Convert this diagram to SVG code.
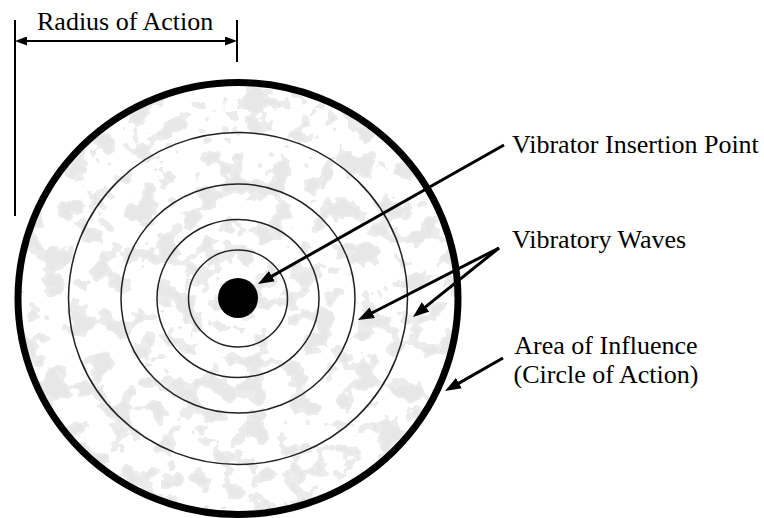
<svg xmlns="http://www.w3.org/2000/svg" width="764" height="518" viewBox="0 0 764 518">
  <defs>
    <style>
      .lbl { font-family: "Liberation Serif", "Times New Roman", serif; font-size: 26px; fill: #000; }
      .ring { fill: none; stroke: #222; stroke-width: 1.5; }
      .dim { stroke: #000; stroke-width: 2; fill: none; }
      .ptr { stroke: #000; stroke-width: 3; fill: none; }
    </style>
    <filter id="speckle" x="0" y="0" width="1" height="1">
      <feTurbulence type="fractalNoise" baseFrequency="0.045" numOctaves="3" seed="11" result="n"/>
      <feColorMatrix in="n" type="matrix" values="0 0 0 0 0.80  0 0 0 0 0.80  0 0 0 0 0.80  1 0 0 0 0" result="g"/>
      <feComponentTransfer in="g" result="t">
        <feFuncA type="discrete" tableValues="0 0 0 0 0 0 0.8 1 1 1 1"/>
      </feComponentTransfer>
      <feComposite in="t" in2="SourceGraphic" operator="in"/>
    </filter>
    <marker id="bigHead" viewBox="0 0 16 12" markerWidth="16" markerHeight="12" refX="6" refY="6" orient="auto" markerUnits="userSpaceOnUse">
      <path d="M0,0 L16,6 L0,12 Z" fill="#000"/>
    </marker>
    <marker id="dimHead" viewBox="0 0 12 9" markerWidth="12" markerHeight="9" refX="4" refY="4.5" orient="auto-start-reverse" markerUnits="userSpaceOnUse">
      <path d="M0,0 L12,4.5 L0,9 Z" fill="#000"/>
    </marker>
  </defs>

  <rect width="764" height="518" fill="#fff"/>

  <g id="area-of-influence">
    <ellipse cx="238" cy="298.5" rx="218" ry="214" fill="#000" filter="url(#speckle)"/>
    <ellipse cx="238" cy="298.5" rx="220" ry="216" fill="none" stroke="#000" stroke-width="7"/>
  </g>

  <g id="vibratory-waves">
    <ellipse class="ring" cx="238" cy="298.5" rx="169.5" ry="166"/>
    <ellipse class="ring" cx="238" cy="298.5" rx="117" ry="114.5"/>
    <ellipse class="ring" cx="238" cy="298.5" rx="81" ry="79"/>
    <ellipse class="ring" cx="238" cy="298.5" rx="49.5" ry="48.5"/>
  </g>

  <g id="insertion-point">
    <circle cx="238" cy="298" r="20" fill="#000"/>
  </g>

  <g id="radius-of-action">
    <line class="dim" x1="15" y1="20" x2="15" y2="216"/>
    <line class="dim" x1="237" y1="20" x2="237" y2="62"/>
    <text class="lbl" x="37" y="30">Radius of Action</text>
  </g>

  <g id="label-insertion">
    <text class="lbl" x="512" y="153">Vibrator Insertion Point</text>
  </g>
  <g id="label-waves">
    <text class="lbl" x="512" y="248">Vibratory Waves</text>
  </g>
  <g id="label-area">
    <text class="lbl" x="606" y="354" text-anchor="middle">Area of Influence</text>
    <text class="lbl" x="606" y="383" text-anchor="middle">(Circle of Action)</text>
  </g>

  <g id="connectors">
    <line class="dim" x1="23" y1="41" x2="229" y2="41" marker-start="url(#dimHead)" marker-end="url(#dimHead)"/>
    <line class="ptr" x1="504" y1="145" x2="266.7" y2="279.1" marker-end="url(#bigHead)"/>
    <line class="ptr" x1="499" y1="248" x2="366.9" y2="315.5" marker-end="url(#bigHead)"/>
    <line class="ptr" x1="499" y1="248" x2="420.8" y2="310.7" marker-end="url(#bigHead)"/>
    <line class="ptr" x1="503" y1="358" x2="453.7" y2="386.1" marker-end="url(#bigHead)"/>
  </g>
</svg>
